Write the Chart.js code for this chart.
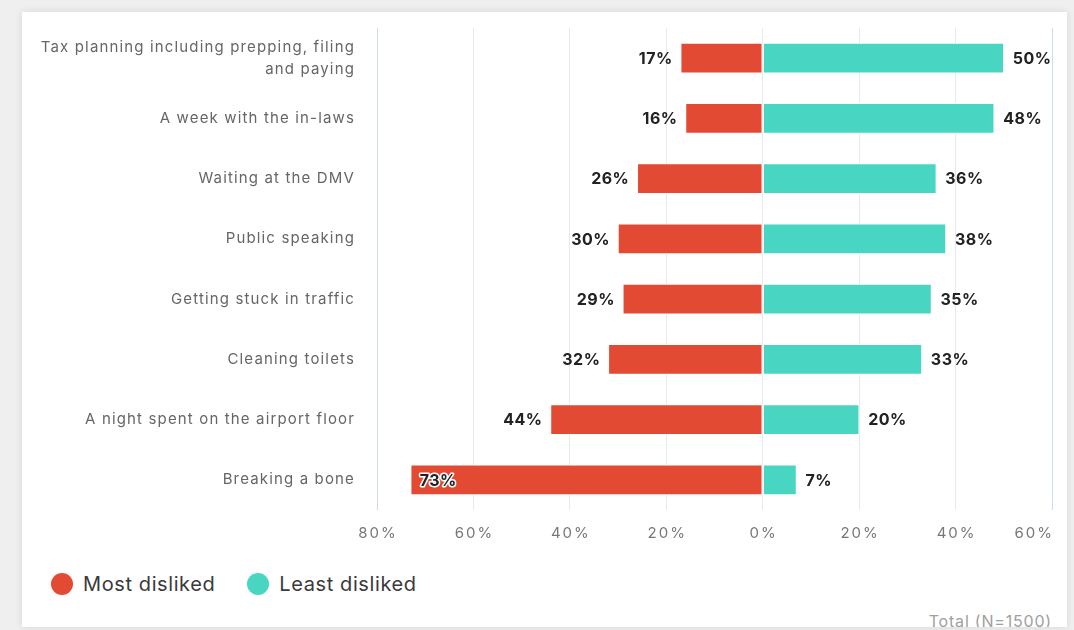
<!DOCTYPE html>
<html>
<head>
<meta charset="utf-8">
<script src="https://cdn.jsdelivr.net/npm/chart.js@4.4.0/dist/chart.umd.min.js"></script>
<style>
  html, body { margin: 0; padding: 0; overflow: hidden; }
  body { width: 1074px; height: 630px; background: #efefef; position: relative; font-family: Inter, "Noto Sans", sans-serif; }
  #card { position: absolute; left: 22px; top: 12px; width: 1045px; height: 615px; background: #fff;
          box-shadow: 0 0 8px rgba(0,0,0,0.10); }
  #wrap { position: absolute; left: 22px; top: 12px; width: 1052px; height: 548px; }
  .legend { position: absolute; top: 572px; left: 51px; display: flex; align-items: center;
            font-size: 20px; color: #3a3a3a; letter-spacing: 0.6px; }
  .legend span.dot { display: inline-block; width: 22px; height: 22px; border-radius: 50%; margin-right: 10px; }
  .legend .item { display: flex; align-items: center; margin-right: 32px; }
  #footer { position: absolute; right: 22px; top: 611px; font-size: 16px; color: #a0a0a0; letter-spacing: 0.8px;
            height: 16px; overflow: hidden; }
</style>
</head>
<body>
<div id="card"></div>
<div id="wrap"><canvas id="chart"></canvas></div>
<div class="legend">
  <div class="item"><span class="dot" style="background:#e34a33"></span>Most disliked</div>
  <div class="item"><span class="dot" style="background:#48d6c3"></span>Least disliked</div>
</div>
<div id="footer">Total (N=1500)</div>
<script>
// Most vs least disliked activities - diverging horizontal bars

const categories = [
  ['Tax planning including prepping, filing', 'and paying'],
  'A week with the in-laws',
  'Waiting at the DMV',
  'Public speaking',
  'Getting stuck in traffic',
  'Cleaning toilets',
  'A night spent on the airport floor',
  'Breaking a bone'
];
const mostDisliked = [-17, -16, -26, -30, -29, -32, -44, -73];
const leastDisliked = [50, 48, 36, 38, 35, 33, 20, 7];

const RED = '#e34a33';
const TEAL = '#48d6c3';

// value labels next to (or inside) each bar
const valueLabels = {
  id: 'valueLabels',
  afterDatasetsDraw(chart) {
    const ctx = chart.ctx;
    ctx.save();
    ctx.letterSpacing = '0.5px';
    ctx.font = 'bold 16px Inter, "Noto Sans", sans-serif';
    ctx.textBaseline = 'middle';
    chart.data.datasets.forEach((ds, i) => {
      const meta = chart.getDatasetMeta(i);
      meta.data.forEach((bar, j) => {
        const v = ds.data[j];
        const txt = Math.abs(v) + '%';
        const y = bar.y + 1;
        if (v <= -60) {
          ctx.textAlign = 'left';
          ctx.lineWidth = 3;
          ctx.strokeStyle = '#ffffff';
          ctx.lineJoin = 'round';
          ctx.strokeText(txt, bar.x + 9, y);
          ctx.fillStyle = '#222';
          ctx.fillText(txt, bar.x + 9, y);
        } else if (v < 0) {
          ctx.textAlign = 'right';
          ctx.fillStyle = '#222';
          ctx.fillText(txt, bar.x - 8, y);
        } else {
          ctx.textAlign = 'left';
          ctx.fillStyle = '#222';
          ctx.fillText(txt, bar.x + 9, y);
        }
      });
    });
    ctx.restore();
  }
};

// x tick labels: first centred, last right-aligned to its grid line
const xTickLabels = {
  id: 'xTickLabels',
  afterDraw(chart) {
    const sc = chart.scales.x;
    const ctx = chart.ctx;
    ctx.save();
    ctx.letterSpacing = '2px';
    ctx.font = '15px Inter, "Noto Sans", sans-serif';
    ctx.fillStyle = '#777';
    ctx.textBaseline = 'middle';
    const n = sc.ticks.length;
    sc.ticks.forEach((t, i) => {
      const x = sc.getPixelForValue(t.value);
      const last = i === n - 1;
      ctx.textAlign = last ? 'right' : 'center';
      ctx.fillText(Math.abs(t.value) + '%', last ? x + 2 : x + 1, sc.top + 23);
    });
    ctx.restore();
  }
};

const spacing = {
  id: 'spacing',
  beforeDraw(chart) { chart.ctx.letterSpacing = '1.15px'; }
};

new Chart(document.getElementById('chart'), {
  type: 'bar',
  data: {
    labels: categories,
    datasets: [
      { label: 'Most disliked', data: mostDisliked, backgroundColor: RED,
        borderColor: '#ffffff', borderWidth: 1, borderSkipped: false },
      { label: 'Least disliked', data: leastDisliked, backgroundColor: TEAL,
        borderColor: '#ffffff', borderWidth: 1, borderSkipped: false }
    ]
  },
  options: {
    indexAxis: 'y',
    responsive: true,
    maintainAspectRatio: false,
    animation: false,
    datasets: { bar: { barThickness: 30 } },
    layout: { padding: { top: 16, right: 22, bottom: 18, left: 0 } },
    plugins: {
      legend: { display: false },
      tooltip: { enabled: false }
    },
    scales: {
      x: {
        stacked: true,
        min: -80, max: 60,
        afterFit: s => { s.height = 32; },
        ticks: { stepSize: 20, display: false },
        grid: {
          drawTicks: false,
          color: c => (c.index === 0 || c.index === 7) ? '#cfdbe6' : '#e6e9ee',
          lineWidth: 1
        },
        border: { display: false }
      },
      y: {
        stacked: true,
        afterFit: s => { s.width = 355; s.paddingTop = 0; s.paddingBottom = 0; },
        ticks: { color: '#666', padding: 22,
                 font: { size: 15, family: 'Inter', lineHeight: 1.45 } },
        grid: { display: false, drawTicks: false },
        border: { display: false }
      }
    }
  },
  plugins: [spacing, valueLabels, xTickLabels]
});
</script>
</body>
</html>
